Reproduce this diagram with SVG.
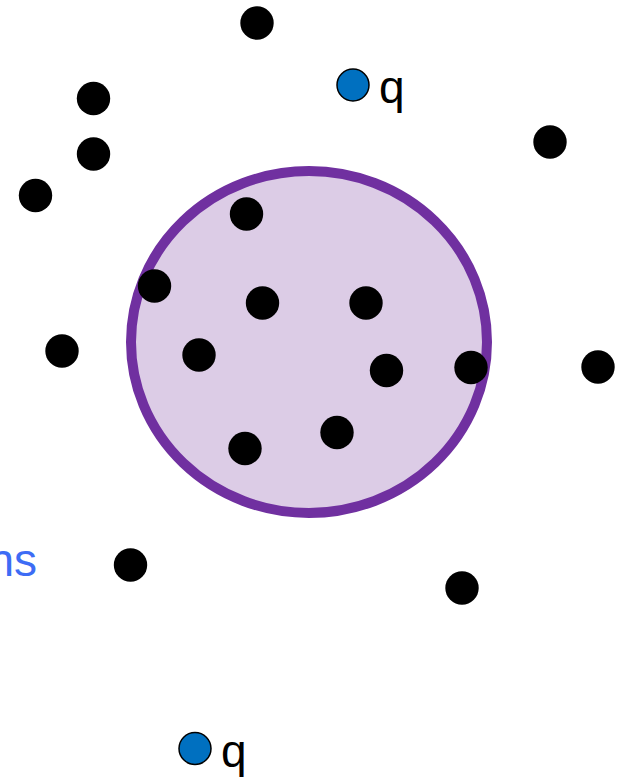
<svg xmlns="http://www.w3.org/2000/svg" width="625" height="777" viewBox="0 0 625 777">
<style>
.pt{fill:#000000}
.q{fill:#0070C0;stroke:#000000;stroke-width:1.5}
.lbl{font-family:"Liberation Sans",Arial,sans-serif;font-size:46px;fill:#000000}
.blue{font-family:"Liberation Sans",Arial,sans-serif;font-size:46px;fill:#3D6CF5}
</style>
<rect width="625" height="777" fill="#ffffff"/>
<g id="range">
<ellipse cx="309" cy="342" rx="178" ry="171" fill="#DCCCE6" stroke="#7030A0" stroke-width="10"/>
</g>
<g id="points">
<circle class="pt" cx="257" cy="23" r="16.7"/>
<circle class="pt" cx="93.5" cy="98.5" r="16.7"/>
<circle class="pt" cx="93.5" cy="154" r="16.7"/>
<circle class="pt" cx="35.5" cy="195.5" r="16.7"/>
<circle class="pt" cx="550" cy="142" r="16.7"/>
<circle class="pt" cx="598" cy="367" r="16.7"/>
<circle class="pt" cx="62" cy="351" r="16.7"/>
<circle class="pt" cx="130.5" cy="565" r="16.7"/>
<circle class="pt" cx="462" cy="588" r="16.7"/>
<circle class="pt" cx="246.5" cy="214" r="16.7"/>
<circle class="pt" cx="154.5" cy="286" r="16.7"/>
<circle class="pt" cx="262.5" cy="303" r="16.7"/>
<circle class="pt" cx="366" cy="303" r="16.7"/>
<circle class="pt" cx="199" cy="355" r="16.7"/>
<circle class="pt" cx="386.5" cy="370.5" r="16.7"/>
<circle class="pt" cx="471" cy="367.5" r="16.7"/>
<circle class="pt" cx="245" cy="448.5" r="16.7"/>
<circle class="pt" cx="337" cy="432.5" r="16.7"/>
</g>
<g id="query1">
<circle class="q" cx="353" cy="85" r="16"/>
<text class="lbl" x="379" y="103">q</text>
</g>
<g id="query2">
<circle class="q" cx="195" cy="748.5" r="16"/>
<text class="lbl" x="221" y="767">q</text>
</g>
<g id="label">
<text class="blue" x="37" y="576" text-anchor="end">ns</text>
</g>
</svg>
